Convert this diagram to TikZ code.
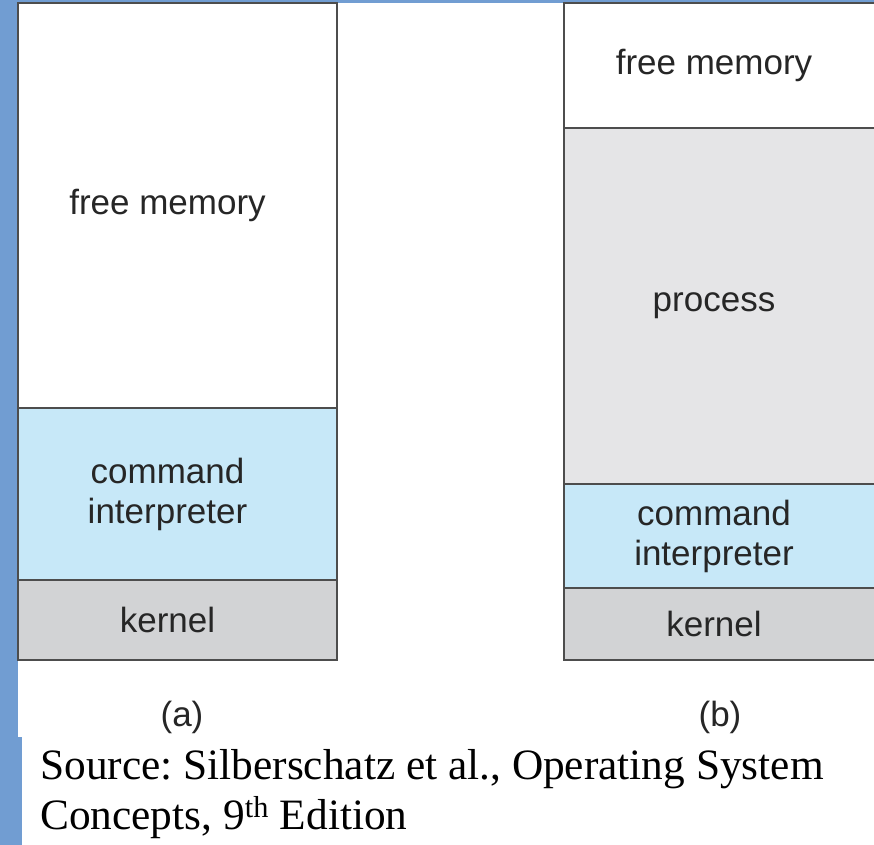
\documentclass[tikz,border=0pt]{standalone}
\usepackage{fontspec}
\setmainfont{Liberation Serif}
\newfontfamily\boxfont{Liberation Sans}
\usepackage{tikz}
\usetikzlibrary{positioning}
\frenchspacing
\definecolor{barblue}{RGB}{113,157,210}
\definecolor{cmdblue}{RGB}{199,232,248}
\definecolor{kernelgray}{RGB}{210,211,213}
\definecolor{procgray}{RGB}{229,229,231}
\definecolor{edgegray}{RGB}{77,77,77}
\tikzstyle{membox} = [rectangle, 
draw=edgegray, 
line width=1.1pt, 
inner sep=0pt, 
outer sep=0pt]
\tikzstyle{freebox} = [membox, fill=white]
\tikzstyle{procbox} = [membox, fill=procgray]
\tikzstyle{cmdbox} = [membox, fill=cmdblue]
\tikzstyle{kernbox} = [membox, fill=kernelgray]
\tikzstyle{boxtext} = [font=\boxfont\fontsize{26.25}{30}\selectfont, 
align=center, 
text=black!85, 
xshift=-7.5pt]
\tikzstyle{captext} = [font=\boxfont\fontsize{26.25}{30}\selectfont, text=black!85]

\begin{document}
\begin{tikzpicture}
        \useasboundingbox (0,0) rectangle (655.5pt,-633.75pt);
        \clip (0,0) rectangle (655.5pt,-633.75pt);
        % slide frame
        \fill [barblue] (0,0) rectangle (655.5pt,-2.25pt);
        \fill [barblue] (0,0) rectangle (13.5pt,-552.75pt);
        \fill [barblue] (0,-552.75pt) rectangle (16.5pt,-633.75pt);
        % (a)
        \node (fa) [freebox, anchor=north west, minimum width=239.25pt, minimum height=303.75pt,
            label={[boxtext]center:free memory}] at (13.5pt,-2.25pt) {};
        \node (ca) [cmdbox, below=0pt of fa, minimum width=239.25pt, minimum height=129pt,
            label={[boxtext]center:{command\\interpreter}}] {};
        \node (ka) [kernbox, below=0pt of ca, minimum width=239.25pt, minimum height=60pt,
            label={[boxtext]center:kernel}] {};
        % (b)
        \node (fb) [freebox, anchor=north west, minimum width=240pt, minimum height=93.75pt,
            label={[boxtext]center:free memory}] at (423pt,-2.25pt) {};
        \node (pb) [procbox, below=0pt of fb, minimum width=240pt, minimum height=267pt,
            label={[boxtext]center:process}] {};
        \node (cb) [cmdbox, below=0pt of pb, minimum width=240pt, minimum height=78pt,
            label={[boxtext]center:{command\\interpreter}}] {};
        \node (kb) [kernbox, below=0pt of cb, minimum width=240pt, minimum height=54pt,
            label={[boxtext]center:kernel}] {};
        \node (capa) [captext] at (136.5pt,-537.75pt) {(a)};
        \node (capb) [captext] at (540pt,-537.75pt) {(b)};
        \node (src) [anchor=north west, align=left, inner sep=0pt,
            font=\fontsize{32.5}{37.5}\selectfont] at (30pt,-562pt)
            {Source: Silberschatz et al., Operating System\\Concepts, 9\textsuperscript{th} Edition};
    \end{tikzpicture}
\end{document}
